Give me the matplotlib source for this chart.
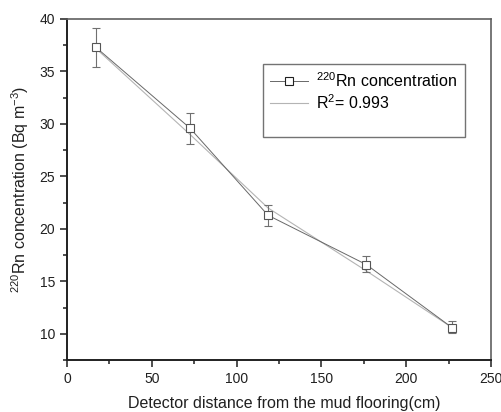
import matplotlib
matplotlib.use("Agg")
import matplotlib.pyplot as plt
from matplotlib.ticker import MultipleLocator
from matplotlib.lines import Line2D

plt.rcParams['font.family'] = ['Liberation Sans', 'DejaVu Sans']
plt.rcParams['mathtext.default'] = 'regular'

# data
dist = [17, 72.5, 118.5, 176.5, 227]
conc = [37.3, 29.6, 21.3, 16.6, 10.6]
err_lo = [1.9, 1.5, 1.0, 0.7, 0.5]
err_hi = [1.8, 1.4, 1.0, 0.8, 0.6]
fit = [37.2, 29.0, 22.0, 16.0, 10.6]

fig = plt.figure(figsize=(5.02, 4.12), dpi=100)
ax = fig.add_axes([0.1335, 0.126, 0.8445, 0.828])

ax.plot(dist, fit, color="#b4b4b4", lw=0.8, zorder=2)
ax.errorbar(dist, conc, yerr=[err_lo, err_hi], color="#686868", lw=0.7,
            marker="s", ms=5.5, mfc="white", mec="#555555", mew=0.8,
            ecolor="#707070", elinewidth=0.8, capsize=3, capthick=0.8,
            zorder=3)

ax.set_xlim(0, 250)
ax.set_ylim(7.5, 40)
ax.xaxis.set_major_locator(MultipleLocator(50))
ax.xaxis.set_minor_locator(MultipleLocator(25))
ax.yaxis.set_major_locator(MultipleLocator(5))
ax.yaxis.set_minor_locator(MultipleLocator(2.5))
ax.tick_params(which="both", direction="out", color="#303030", width=1.2)
ax.tick_params(which="major", length=5, labelsize=10, labelcolor="#202020")
ax.tick_params(which="minor", length=3)
for s in ["left", "bottom"]:
    ax.spines[s].set_color("#202020")
    ax.spines[s].set_linewidth(1.4)
for s in ["top", "right"]:
    ax.spines[s].set_color("#606060")
    ax.spines[s].set_linewidth(1.2)

ax.set_xlabel("Detector distance from the mud flooring(cm)", fontsize=11.5,
              labelpad=7, color="#202020", x=0.512)
ax.set_ylabel(r"$^{220}$Rn concentration (Bq m$^{-3}$)", fontsize=11.5,
              labelpad=6, color="#202020")

h_data = Line2D([], [], color="#686868", lw=0.7, marker="s", ms=5.5,
                mfc="white", mec="#202020", mew=0.8)
h_fit = Line2D([], [], color="#b4b4b4", lw=0.8)
h_empty = Line2D([], [], color="none")
leg = ax.legend([h_data, h_fit, h_empty],
                [r"$^{220}$Rn concentration", r"R$^2$= 0.993", " "],
                loc="upper left", bbox_to_anchor=(0.462, 0.868),
                fontsize=11.5, frameon=True, fancybox=False, borderpad=0.45,
                handlelength=2.4, handletextpad=0.5, labelspacing=0.2,
                borderaxespad=0)
leg.get_frame().set_edgecolor("#505050")
leg.get_frame().set_linewidth(1.0)

fig.savefig("out.png", dpi=100)
